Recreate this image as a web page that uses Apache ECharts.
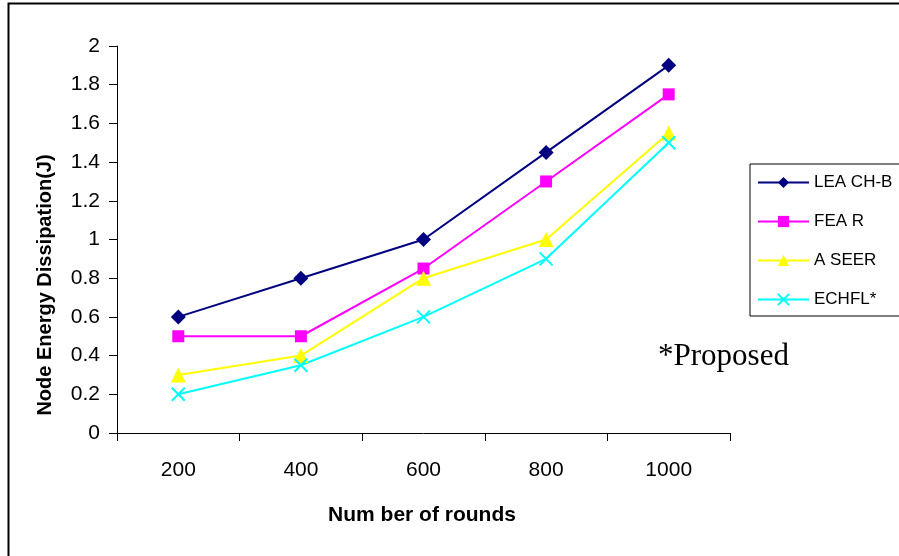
<!DOCTYPE html>
<html>
<head>
<meta charset="utf-8">
<script src="https://cdn.jsdelivr.net/npm/echarts@6/dist/echarts.min.js"></script>
<style>
html,body{margin:0;padding:0;background:#fff;}
#chart{width:899px;height:556px;}
</style>
</head>
<body>
<div id="chart"></div>
<script>
const categories = ['200', '400', '600', '800', '1000'];
const leachB = [0.6, 0.8, 1.0, 1.45, 1.9];
const fear = [0.5, 0.5, 0.85, 1.3, 1.75];
const aseer = [0.3, 0.4, 0.8, 1.0, 1.55];
const echfl = [0.2, 0.35, 0.6, 0.9, 1.5];
const seriesNames = ['LEA CH-B', 'FEA R', 'A SEER', 'ECHFL*'];

const sans = "'Liberation Sans', Arial, sans-serif";
const chart = echarts.init(document.getElementById('chart'));
const crossPath = 'path://M0,0L10,10M10,0L0,10';

chart.setOption({
  animation: false,
  backgroundColor: '#fff',
  grid: {left: 117, right: 169, top: 46, bottom: 123},
  xAxis: {
    type: 'category',
    data: categories,
    boundaryGap: true,
    axisLine: {lineStyle: {color: '#000', width: 1}},
    axisTick: {show: true, length: 8, lineStyle: {color: '#000'}},
    axisLabel: {color: '#000', fontSize: 21, fontFamily: sans, margin: 27}
  },
  yAxis: {
    type: 'value',
    min: 0, max: 2, interval: 0.2,
    splitLine: {show: false},
    axisLine: {show: true, lineStyle: {color: '#000', width: 1}},
    axisTick: {show: true, length: 8, lineStyle: {color: '#000'}},
    axisLabel: {color: '#000', fontSize: 21, fontFamily: sans, margin: 17,
      formatter: v => String(Math.round(v * 10) / 10)}
  },
  legend: {
    orient: 'vertical',
    left: 750, top: 164,
    padding: [10, 30, 8, 7],
    itemGap: 22,
    itemWidth: 51, itemHeight: 14,
    borderColor: '#000', borderWidth: 1,
    textStyle: {color: '#000', fontSize: 17, fontFamily: sans},
    data: seriesNames
  },
  graphic: [
    {type: 'rect', shape: {x: 8.5, y: 3.5, width: 1200, height: 1200}, style: {fill: 'none', stroke: '#000', lineWidth: 2}, z: -1},
    {type: 'text', x: 658, y: 356.5, style: {text: '*Proposed', fill: '#000', font: "31px 'Liberation Serif', 'Times New Roman', serif", textVerticalAlign: 'middle'}},
    {type: 'text', x: 422, y: 515, style: {text: 'Num ber of rounds', fill: '#000', font: "bold 21px " + sans, textAlign: 'center', textVerticalAlign: 'middle'}},
    {type: 'text', x: 45, y: 285, rotation: Math.PI / 2, style: {text: 'Node Energy Dissipation(J)', fill: '#000', font: "bold 20px " + sans, textAlign: 'center', textVerticalAlign: 'middle'}}
  ],
  series: [
    {name: seriesNames[0], type: 'line', data: leachB, symbol: 'diamond', symbolSize: 15,
      lineStyle: {color: '#000080', width: 2}, itemStyle: {color: '#000080'}},
    {name: seriesNames[1], type: 'line', data: fear, symbol: 'rect', symbolSize: 12,
      lineStyle: {color: '#ff00ff', width: 2}, itemStyle: {color: '#ff00ff'}},
    {name: seriesNames[2], type: 'line', data: aseer, symbol: 'triangle', symbolSize: 15,
      lineStyle: {color: '#ffff00', width: 2}, itemStyle: {color: '#ffff00'}},
    {name: seriesNames[3], type: 'line', data: echfl, symbol: crossPath, symbolSize: 13,
      lineStyle: {color: '#00ffff', width: 2}, itemStyle: {color: 'none', borderColor: '#00ffff', borderWidth: 2}}
  ]
});
</script>
</body>
</html>
